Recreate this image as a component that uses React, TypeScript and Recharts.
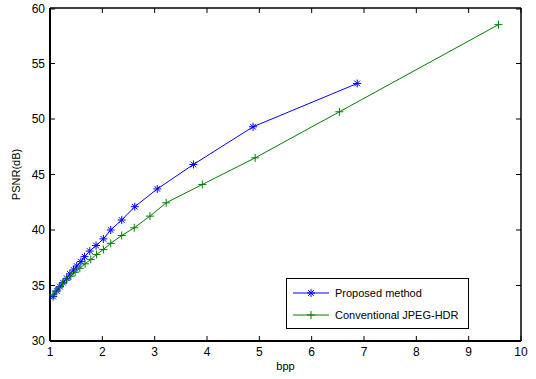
import { LineChart, Line, XAxis, YAxis, Legend } from 'recharts';

// values
const proposedBpp = [1.06, 1.13, 1.19, 1.25, 1.32, 1.38, 1.45, 1.51, 1.59, 1.66, 1.76, 1.88, 2.02, 2.16, 2.37, 2.62, 3.05, 3.74, 4.88, 6.87];
const proposedPsnr = [34.0, 34.5, 34.9, 35.25, 35.65, 36.05, 36.4, 36.75, 37.15, 37.6, 38.1, 38.6, 39.2, 40.0, 40.9, 42.1, 43.7, 45.9, 49.3, 53.2];

const jpegBpp = [1.06, 1.11, 1.18, 1.24, 1.32, 1.4, 1.48, 1.57, 1.67, 1.78, 1.89, 2.02, 2.16, 2.37, 2.61, 2.91, 3.22, 3.91, 4.92, 6.53, 9.57];
const jpegPsnr = [34.15, 34.5, 34.85, 35.2, 35.5, 35.85, 36.2, 36.55, 36.95, 37.35, 37.8, 38.25, 38.8, 39.5, 40.2, 41.25, 42.45, 44.1, 46.5, 50.65, 58.5];

const xTicks = [1, 2, 3, 4, 5, 6, 7, 8, 9, 10];
const yTicks = [30, 35, 40, 45, 50, 55, 60];
const seriesOrder = ['Proposed method', 'Conventional JPEG-HDR'];

const BLUE = '#0000ff';
const GREEN = '#008000';
const FONT = '"Liberation Sans", Arial, sans-serif';

const proposed = proposedBpp.map((x, i) => ({ x, y: proposedPsnr[i] }));
const jpeg = jpegBpp.map((x, i) => ({ x, y: jpegPsnr[i] }));

const StarDot = (props: any) => {
  const { cx, cy, stroke } = props;
  if (cx == null || cy == null) return null;
  const r = 4;
  const d = r * 0.707;
  return (
    <g stroke={stroke} strokeWidth={1}>
      <line x1={cx - r} y1={cy} x2={cx + r} y2={cy} />
      <line x1={cx} y1={cy - r} x2={cx} y2={cy + r} />
      <line x1={cx - d} y1={cy - d} x2={cx + d} y2={cy + d} />
      <line x1={cx - d} y1={cy + d} x2={cx + d} y2={cy - d} />
    </g>
  );
};

const PlusDot = (props: any) => {
  const { cx, cy, stroke } = props;
  if (cx == null || cy == null) return null;
  const r = 4;
  return (
    <g stroke={stroke} strokeWidth={1}>
      <line x1={cx - r} y1={cy} x2={cx + r} y2={cy} />
      <line x1={cx} y1={cy - r} x2={cx} y2={cy + r} />
    </g>
  );
};

const BottomTick = (props: any) => {
  const { x, y, payload } = props;
  return (
    <g>
      <line x1={x} y1={y} x2={x} y2={y - 5} stroke="#000" />
      <text x={x} y={y + 15} textAnchor="middle" fontSize={12} fill="#000" fontFamily={FONT}>
        {payload.value}
      </text>
    </g>
  );
};

const TopTick = (props: any) => {
  const { x, y } = props;
  return <line x1={x} y1={y} x2={x} y2={y + 5} stroke="#000" />;
};

const LeftTick = (props: any) => {
  const { x, y, payload } = props;
  return (
    <g>
      <line x1={x} y1={y} x2={x + 5} y2={y} stroke="#000" />
      <text x={x - 5} y={y + 4} textAnchor="end" fontSize={12} fill="#000" fontFamily={FONT}>
        {payload.value}
      </text>
    </g>
  );
};

const RightTick = (props: any) => {
  const { x, y } = props;
  return <line x1={x} y1={y} x2={x - 5} y2={y} stroke="#000" />;
};

const LegendBox = (props: any) => {
  const items = [...(props.payload || [])].sort(
    (a: any, b: any) => seriesOrder.indexOf(a.value) - seriesOrder.indexOf(b.value)
  );
  return (
    <div
      style={{
        border: '1px solid #000',
        background: '#fff',
        width: 181,
        height: 46,
        boxSizing: 'content-box',
        fontFamily: FONT,
        fontSize: 11,
        color: '#000',
        paddingTop: 3,
      }}
    >
      {items.map((entry: any) => (
        <div key={entry.value} style={{ display: 'flex', alignItems: 'center', height: 22 }}>
          <svg width={44} height={10} style={{ marginLeft: 4 }}>
            <line x1={2} y1={5} x2={38} y2={5} stroke={entry.color} />
            {entry.value === 'Proposed method' ? (
              <StarDot cx={20} cy={5} stroke={entry.color} />
            ) : (
              <PlusDot cx={20} cy={5} stroke={entry.color} />
            )}
          </svg>
          <span>{entry.value}</span>
        </div>
      ))}
    </div>
  );
};

export default function App() {
  return (
    <div style={{ position: 'absolute', left: 0, top: 0, background: '#fff' }}>
      <LineChart width={536} height={379} margin={{ top: 7, right: 14, bottom: 0, left: 0 }}>
        <XAxis
          dataKey="x"
          type="number"
          domain={[1, 10]}
          ticks={xTicks}
          height={38}
          tickSize={0}
          tickMargin={0}
          tickLine={false}
          axisLine={{ stroke: '#000', strokeWidth: 2 }}
          tick={<BottomTick />}
          label={{ value: 'bpp', position: 'insideBottom', offset: 9, fontSize: 11, fill: '#000', fontFamily: FONT }}
        />
        <XAxis
          xAxisId="top"
          orientation="top"
          dataKey="x"
          type="number"
          domain={[1, 10]}
          ticks={xTicks}
          height={1}
          tickSize={0}
          tickMargin={0}
          tickLine={false}
          axisLine={{ stroke: '#000', strokeWidth: 1.5 }}
          tick={<TopTick />}
        />
        <YAxis
          type="number"
          domain={[30, 60]}
          ticks={yTicks}
          width={50}
          tickSize={0}
          tickMargin={0}
          tickLine={false}
          axisLine={{ stroke: '#000', strokeWidth: 2 }}
          tick={<LeftTick />}
          label={{ value: 'PSNR(dB)', angle: -90, position: 'insideLeft', offset: 16, fontSize: 11, fill: '#000', fontFamily: FONT, style: { textAnchor: 'middle' } }}
        />
        <YAxis
          yAxisId="right"
          orientation="right"
          type="number"
          domain={[30, 60]}
          ticks={yTicks}
          width={1}
          tickSize={0}
          tickMargin={0}
          tickLine={false}
          axisLine={{ stroke: '#000', strokeWidth: 1.5 }}
          tick={<RightTick />}
        />
        <Legend
          layout="vertical"
          align="center"
          verticalAlign="middle"
          content={<LegendBox />}
          wrapperStyle={{ position: 'absolute', left: 286, top: 278, width: 183, height: 51 }}
        />
        <Line
          data={proposed}
          dataKey="y"
          xAxisId="top"
          yAxisId="right"
          name="Proposed method"
          stroke={BLUE}
          strokeWidth={1}
          dot={<StarDot />}
          isAnimationActive={false}
        />
        <Line
          data={jpeg}
          dataKey="y"
          name="Conventional JPEG-HDR"
          stroke={GREEN}
          strokeWidth={1}
          dot={<PlusDot />}
          isAnimationActive={false}
        />
      </LineChart>
    </div>
  );
}
